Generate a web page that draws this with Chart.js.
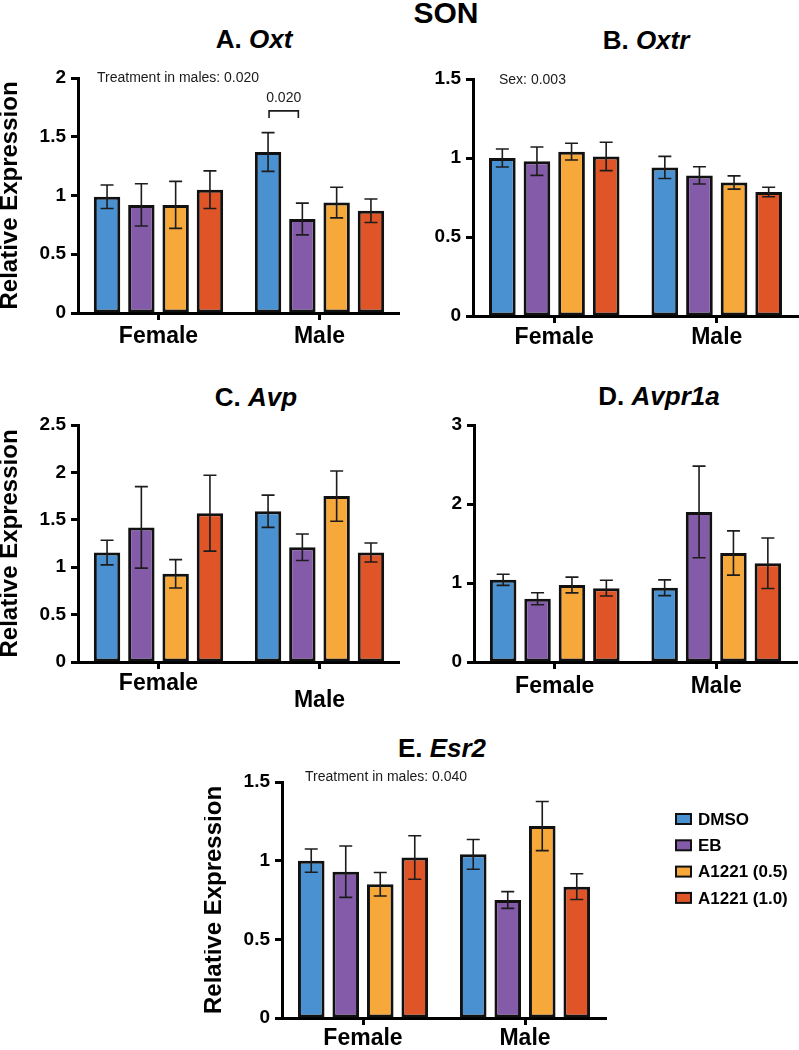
<!DOCTYPE html>
<html><head><meta charset="utf-8">
<script src="https://cdn.jsdelivr.net/npm/chart.js@4.4.0/dist/chart.umd.min.js"></script>
<style>
html,body{margin:0;padding:0;background:#fff;}
#wrap{position:relative;width:799px;height:1050px;overflow:hidden;font-family:'Liberation Sans',Arial,Helvetica,sans-serif;}
canvas{position:absolute;}
.t{position:absolute;transform:translate(-50%,-50%);font-weight:bold;line-height:1;white-space:nowrap;color:#000;}
</style></head><body>
<div id="wrap">
<div class="t" style="left:446px;top:13px;font-size:30px">SON</div>
<div class="t" style="left:254px;top:39px;font-size:26px">A. <i>Oxt</i></div>
<div class="t" style="left:646px;top:40px;font-size:26px">B. <i>Oxtr</i></div>
<div class="t" style="left:256px;top:397px;font-size:26px">C. <i>Avp</i></div>
<div class="t" style="left:659px;top:396px;font-size:26px">D. <i>Avpr1a</i></div>
<div class="t" style="left:442px;top:748px;font-size:26px">E. <i>Esr2</i></div>
<canvas id="cA" width="400" height="300" style="left:0px;top:60px"></canvas>
<canvas id="cB" width="399" height="300" style="left:400px;top:60px"></canvas>
<canvas id="cC" width="400" height="320" style="left:0px;top:405px"></canvas>
<canvas id="cD" width="399" height="320" style="left:400px;top:405px"></canvas>
<canvas id="cE" width="595" height="285" style="left:204px;top:765px"></canvas>
</div>
<script>
// ---------- data ----------
const categories = ['Female', 'Male'];
const treatments = ['DMSO', 'EB', 'A1221 (0.5)', 'A1221 (1.0)'];
const treatmentColors = ['#4A91D2', '#845BA8', '#F6A83B', '#E05527'];

// A. Oxt
const oxtFemale    = [0.99, 0.92, 0.92, 1.05];
const oxtFemaleSem = [0.10, 0.18, 0.20, 0.16];
const oxtMale      = [1.37, 0.80, 0.94, 0.87];
const oxtMaleSem   = [0.165, 0.135, 0.13, 0.10];
// B. Oxtr
const oxtrFemale    = [1.00, 0.98, 1.04, 1.01];
const oxtrFemaleSem = [0.057, 0.09, 0.053, 0.09];
const oxtrMale      = [0.94, 0.89, 0.845, 0.785];
const oxtrMaleSem   = [0.07, 0.055, 0.042, 0.03];
// C. Avp
const avpFemale    = [1.155, 1.42, 0.93, 1.57];
const avpFemaleSem = [0.13, 0.43, 0.15, 0.40];
const avpMale      = [1.59, 1.21, 1.75, 1.155];
const avpMaleSem   = [0.17, 0.14, 0.265, 0.10];
// D. Avpr1a
const avpr1aFemale    = [1.04, 0.80, 0.975, 0.935];
const avpr1aFemaleSem = [0.07, 0.076, 0.10, 0.10];
const avpr1aMale      = [0.94, 1.90, 1.38, 1.25];
const avpr1aMaleSem   = [0.10, 0.58, 0.28, 0.32];
// E. Esr2
const esr2Female    = [1.00, 0.93, 0.85, 1.02];
const esr2FemaleSem = [0.074, 0.163, 0.075, 0.138];
const esr2Male      = [1.04, 0.75, 1.22, 0.835];
const esr2MaleSem   = [0.095, 0.053, 0.156, 0.082];

// y-axis ranges (max, step)
const oxtAxis = [2, 0.5];
const oxtrAxis = [1.5, 0.5];
const avpAxis = [2.5, 0.5];
const avpr1aAxis = [3, 1];
const esr2Axis = [1.5, 0.5];

// ---------- rendering ----------
const FONT = "'Liberation Sans', Arial, Helvetica, sans-serif";
Chart.defaults.font.family = FONT;
Chart.defaults.color = '#000';

const errorBars = {
  id: 'errorBars',
  afterDatasetsDraw(chart) {
    const ctx = chart.ctx, y = chart.scales.y;
    ctx.save();
    ctx.strokeStyle = '#1c1c1c';
    ctx.lineWidth = 1.6;
    chart.data.datasets.forEach((ds, di) => {
      chart.getDatasetMeta(di).data.forEach((bar, i) => {
        const v = ds.data[i], e = ds.errors[i];
        const yt = y.getPixelForValue(v + e), yb = y.getPixelForValue(v - e);
        const cap = 6.5;
        ctx.beginPath();
        ctx.moveTo(bar.x, yt); ctx.lineTo(bar.x, yb);
        ctx.moveTo(bar.x - cap, yt); ctx.lineTo(bar.x + cap, yt);
        ctx.moveTo(bar.x - cap, yb); ctx.lineTo(bar.x + cap, yb);
        ctx.stroke();
      });
    });
    ctx.restore();
  }
};

const notes = {
  id: 'notes',
  afterDraw(chart, args, opts) {
    const ctx = chart.ctx, y = chart.scales.y, area = chart.chartArea;
    ctx.save();
    ctx.fillStyle = '#1a1a1a';
    ctx.font = '14px ' + FONT;
    ctx.textBaseline = 'middle';
    if (opts.text) {
      ctx.textAlign = 'left';
      ctx.fillText(opts.text, area.left + opts.dx, area.top + opts.dy);
    }
    if (opts.bracket) {
      const b = opts.bracket;
      const x1 = chart.getDatasetMeta(b.from).data[b.index].x + b.inset[0];
      const x2 = chart.getDatasetMeta(b.to).data[b.index].x - b.inset[1];
      const yTop = y.getPixelForValue(b.value), yLeg = y.getPixelForValue(b.legValue);
      ctx.strokeStyle = '#1a1a1a'; ctx.lineWidth = 1.6;
      ctx.beginPath();
      ctx.moveTo(x1, yLeg); ctx.lineTo(x1, yTop); ctx.lineTo(x2, yTop); ctx.lineTo(x2, yLeg);
      ctx.stroke();
      ctx.textAlign = 'center';
      ctx.fillText(b.label, (x1 + x2) / 2, y.getPixelForValue(b.labelValue));
    }
    if (opts.legend) {
      const L = opts.legend;
      chart.data.datasets.forEach((ds, i) => {
        const cy = area.top + L.dy + i * L.gap;
        const bx = area.right + L.dx;
        ctx.fillStyle = ds.backgroundColor;
        ctx.fillRect(bx, cy - 5, 15, 10);
        ctx.strokeStyle = '#111'; ctx.lineWidth = 2;
        ctx.strokeRect(bx, cy - 5, 15, 10);
        ctx.fillStyle = '#000';
        ctx.font = 'bold 17px ' + FONT;
        ctx.textAlign = 'left';
        ctx.fillText(ds.label, bx + 22, cy + 1);
      });
    }
    ctx.restore();
  }
};

function panel(id, female, femaleSem, male, maleSem, axis, g, noteOpts) {
  const datasets = treatments.map((name, i) => ({
    label: name,
    data: [female[i], male[i]],
    errors: [femaleSem[i], maleSem[i]],
    backgroundColor: treatmentColors[i],
    borderColor: '#111',
    borderWidth: 3,
    borderSkipped: false,
    barPercentage: 0.77,
    categoryPercentage: 0.852
  }));
  return new Chart(document.getElementById(id), {
    type: 'bar',
    data: { labels: g.labels || categories, datasets },
    options: {
      responsive: false,
      animation: false,
      devicePixelRatio: 1,
      layout: { padding: { top: g.padTop, right: g.padRight, left: 0, bottom: 0 } },
      plugins: { legend: { display: false }, tooltip: { enabled: false }, notes: noteOpts || {} },
      scales: {
        x: {
          afterFit(s) { s.height = g.xh; },
          border: { display: true, color: '#000', width: 3 },
          grid: { offset: false, drawOnChartArea: false, drawTicks: true, tickLength: 7, tickWidth: 3, color: '#000' },
          ticks: { color: '#000', padding: g.xPad, maxRotation: 0, autoSkip: false,
                   font: { size: 23, weight: 'bold', lineHeight: g.xLH || 1.2 } }
        },
        y: {
          min: 0, max: axis[0],
          afterFit(s) { s.width = g.yw; },
          border: { display: true, color: '#000', width: 3 },
          grid: { drawOnChartArea: false, drawTicks: true, tickLength: 7, tickWidth: 3, color: '#000' },
          ticks: { stepSize: axis[1], color: '#000', padding: 5, font: { size: 19, weight: 'bold' },
                   callback: (v) => String(Math.round(v * 100) / 100) },
          title: { display: !!g.yTitle, text: 'Relative Expression', color: '#000',
                   padding: { top: 0, bottom: 0 },
                   font: { size: 24, weight: 'bold', lineHeight: 0.85 } }
        }
      }
    },
    plugins: [errorBars, notes]
  });
}

panel('cA', oxtFemale, oxtFemaleSem, oxtMale, oxtMaleSem, oxtAxis,
  { yw: 78, padTop: 18, padRight: 0, xh: 47, xPad: 3, yTitle: true },
  { text: 'Treatment in males: 0.020', dx: 19, dy: 0,
    bracket: { from: 0, to: 1, index: 1, inset: [1, 4], value: 1.72, legValue: 1.66, labelValue: 1.826, label: '0.020' } });

panel('cB', oxtrFemale, oxtrFemaleSem, oxtrMale, oxtrMaleSem, oxtrAxis,
  { yw: 73, padTop: 19, padRight: 1, xh: 44, xPad: 1, yTitle: false },
  { text: 'Sex: 0.003', dx: 26, dy: 1 });

panel('cC', avpFemale, avpFemaleSem, avpMale, avpMaleSem, avpAxis,
  { yw: 78, padTop: 20, padRight: 0, xh: 63, xPad: 6, xLH: 0.74, yTitle: true,
    labels: ['Female', ['', 'Male']] });

panel('cD', avpr1aFemale, avpr1aFemaleSem, avpr1aMale, avpr1aMaleSem, avpr1aAxis,
  { yw: 74, padTop: 20, padRight: 2, xh: 63, xPad: 4, yTitle: false });

panel('cE', esr2Female, esr2FemaleSem, esr2Male, esr2MaleSem, esr2Axis,
  { yw: 78, padTop: 17, padRight: 193, xh: 32, xPad: 0, yTitle: true },
  { text: 'Treatment in males: 0.040', dx: 23, dy: -5,
    legend: { dx: 70, dy: 37, gap: 26.3 } });
</script>
</body></html>
